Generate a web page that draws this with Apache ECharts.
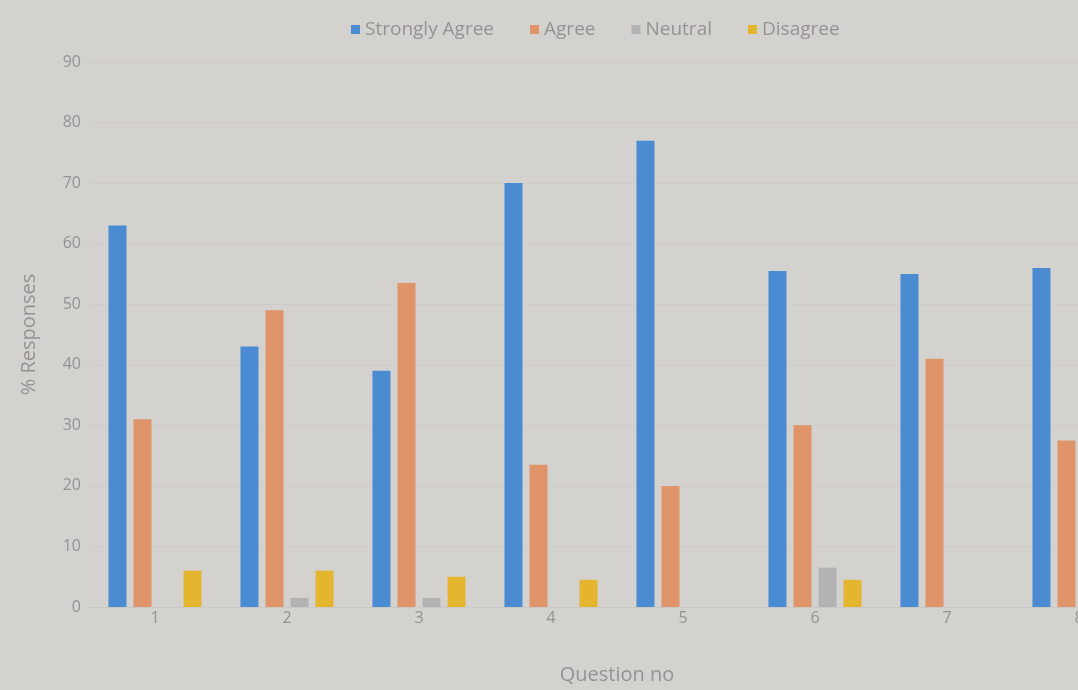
<!DOCTYPE html>
<html>
<head>
<meta charset="utf-8">
<script src="https://cdn.jsdelivr.net/npm/echarts@6/dist/echarts.min.js"></script>
<style>
html,body{margin:0;padding:0;background:#d4d2cf;overflow:hidden;width:1078px;height:690px;}
#chart{width:1145px;height:690px;}
</style>
</head>
<body>
<div id="chart"></div>
<script>
const categories = ['1','2','3','4','5','6','7','8'];
const stronglyAgree = [63, 43, 39, 70, 77, 55.5, 55, 56];
const agree = [31, 49, 53.5, 23.5, 20, 30, 41, 27.5];
const neutral = [0, 1.5, 1.5, 0, 0, 6.5, 0, 0];
const disagree = [6, 6, 5, 4.5, 0, 4.5, 0, 0];
const yTicks = [0, 10, 20, 30, 40, 50, 60, 70, 80, 90];

const font = 'Open Sans';
const txt = '#959391';
const chart = echarts.init(document.getElementById('chart'));
chart.setOption({
  backgroundColor: '#d4d2cf',
  animation: false,
  textStyle: { fontFamily: font },
  legend: {
    top: 15, left: 346,
    itemWidth: 9, itemHeight: 9, itemGap: 36,
    icon: 'rect',
    textStyle: { color: txt, fontSize: 19, fontFamily: font },
    data: ['Strongly Agree', 'Agree', 'Neutral', 'Disagree']
  },
  grid: { left: 89, right: 0, top: 62, bottom: 83, containLabel: false },
  xAxis: {
    type: 'category', data: categories,
    name: 'Question no', nameLocation: 'middle', nameGap: 58,
    nameTextStyle: { color: txt, fontSize: 20 },
    axisLine: { show: true, lineStyle: { color: '#cac8c5' } },
    axisTick: { show: false },
    axisLabel: { color: txt, fontSize: 16, margin: 3 }
  },
  yAxis: {
    type: 'value', min: yTicks[0], max: yTicks[yTicks.length - 1], interval: 10,
    name: '% Responses', nameLocation: 'middle', nameGap: 50,
    nameTextStyle: { color: txt, fontSize: 20 },
    axisLine: { show: false }, axisTick: { show: false },
    axisLabel: { color: txt, fontSize: 16, margin: 8 },
    splitLine: { lineStyle: { color: '#cecbc8' } }
  },
  series: [
    { name: 'Strongly Agree', type: 'bar', data: stronglyAgree, barWidth: 18, barGap: '39%', itemStyle: { color: '#4a8bd2' } },
    { name: 'Agree', type: 'bar', data: agree, barWidth: 18, barGap: '39%', itemStyle: { color: '#e0946a' } },
    { name: 'Neutral', type: 'bar', data: neutral, barWidth: 18, barGap: '39%', itemStyle: { color: '#b3b3b3' } },
    { name: 'Disagree', type: 'bar', data: disagree, barWidth: 18, barGap: '39%', itemStyle: { color: '#e4b630' } }
  ]
});
</script>
</body>
</html>
